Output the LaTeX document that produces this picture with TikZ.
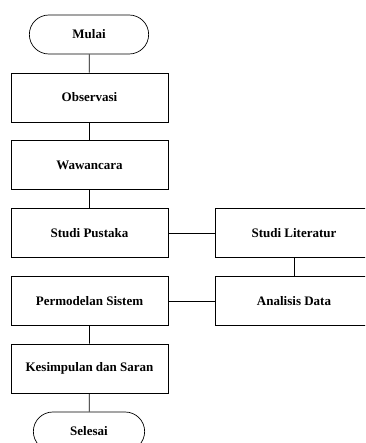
\documentclass[tikz,border=0pt]{standalone}
\usepackage{fontspec}
\setmainfont{Liberation Serif}
\usepackage{tikz}
\usetikzlibrary{positioning,shapes.misc}

\begin{document}
\begin{tikzpicture}[x=1pt,y=-1pt,
  mybox/.style = {draw=black, line width=0.7pt, minimum width=157pt, minimum height=49pt, font=\fontsize{13}{15}\selectfont\bfseries},
  myterm/.style = {draw=black, line width=0.7pt, rounded rectangle, minimum height=39pt, font=\fontsize{13}{15}\selectfont\bfseries}]
\clip (0,0) rectangle (365,443);
\node[myterm, minimum width=126pt] (mulai) at (89,34.5) {Mulai};
\node[mybox] (observasi) at (89.5,97.5) {Observasi};
\node[mybox] (wawancara) at (89.5,165) {Wawancara};
\node[mybox] (pustaka) at (89.5,233) {Studi Pustaka};
\node[mybox] (literatur) at (294,233) {Studi Literatur};
\node[mybox] (analisis) at (294,301) {Analisis Data};
\node[mybox] (permodelan) at (89.5,301) {Permodelan Sistem};
\node[mybox] (kesimpulan) at (89.5,368.5) {Kesimpulan dan Saran};
\node[myterm, minimum width=118pt] (selesai) at (89,431.5) {Selesai};
\draw[line width=0.7pt] (mulai) -- (observasi) -- (wawancara) -- (pustaka);
\draw[line width=0.7pt] (pustaka) -- (literatur) -- (analisis) -- (permodelan);
\draw[line width=0.7pt] (permodelan) -- (kesimpulan) -- (selesai);
\end{tikzpicture}
\end{document}
